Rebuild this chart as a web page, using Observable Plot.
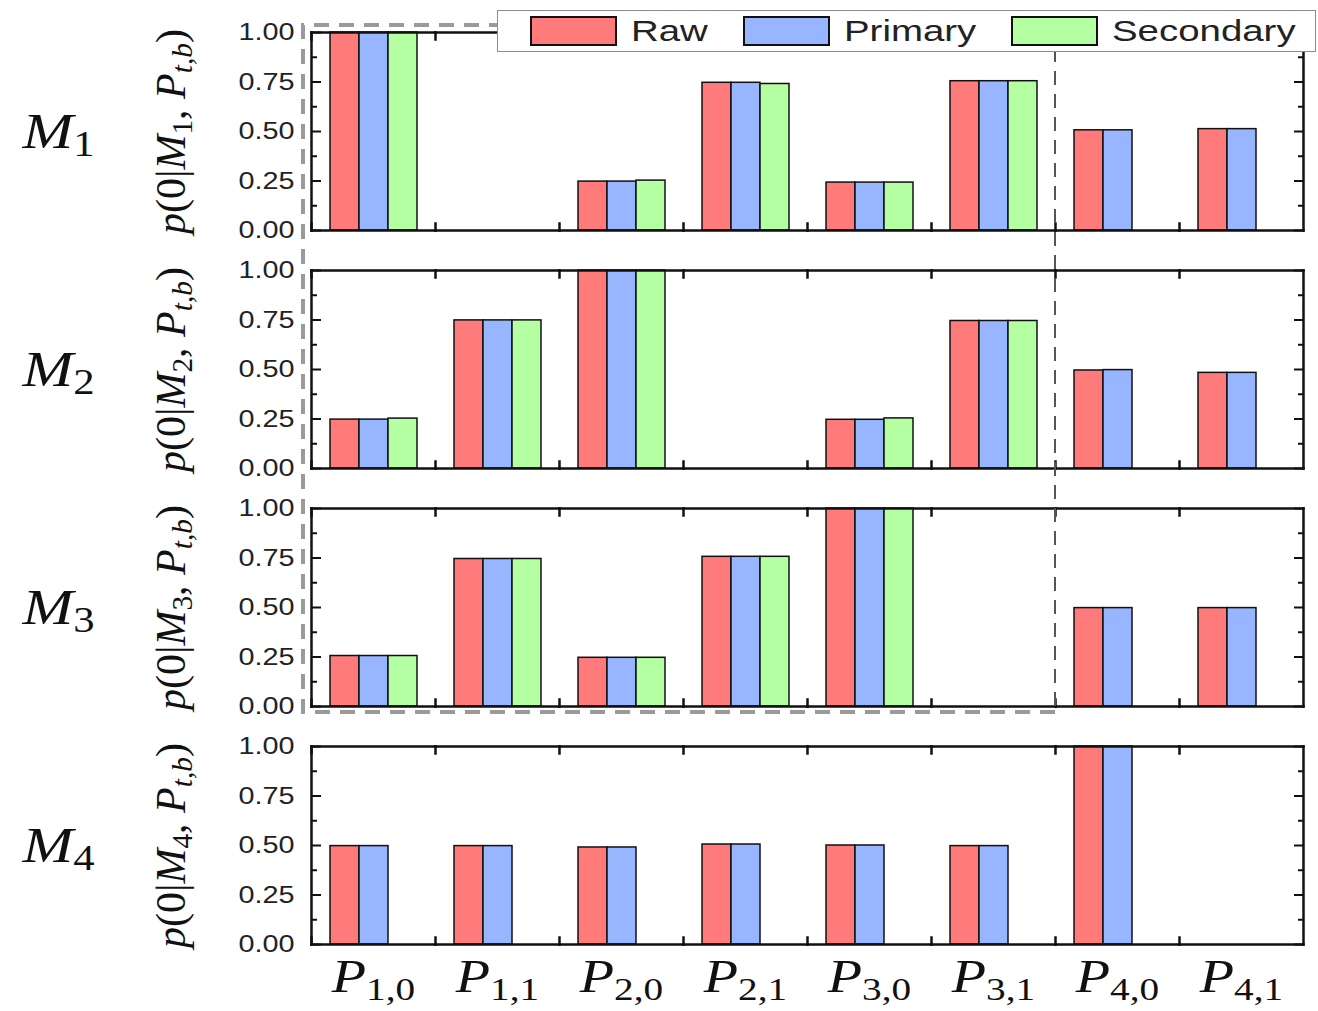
<!DOCTYPE html>
<html>
<head>
<meta charset="utf-8">
<script src="https://cdn.jsdelivr.net/npm/d3@7"></script>
<script src="https://cdn.jsdelivr.net/npm/@observablehq/plot@0.6"></script>
<style>
html, body { margin: 0; padding: 0; background: #fff; }
#wrap { position: relative; width: 1318px; height: 1011px; overflow: hidden; }
#wrap > svg { position: absolute; left: 0; top: 0; }
.legend { position: absolute; left: 497px; top: 10px; width: 819px; height: 42px; box-sizing: border-box;
  border: 1.5px solid #8c8c8c; background: #fff; display: flex; align-items: center; padding-left: 32px;
  font-family: "Liberation Sans", Arial, sans-serif; font-size: 30px; color: #222; }
.legend .item { display: flex; align-items: center; }
.legend .sw { width: 87px; height: 30px; box-sizing: border-box; border: 2px solid #111; margin-right: 14px; flex: none; }
.legend .lab { display: inline-block; transform: scaleX(1.28); transform-origin: 0 50%; white-space: nowrap; }
</style>
</head>
<body>
<div id="wrap"></div>
<script>
// ---------- data ----------
const categories = ["P1,0", "P1,1", "P2,0", "P2,1", "P3,0", "P3,1", "P4,0", "P4,1"];
const categoryLabels = ["P_{1,0}", "P_{1,1}", "P_{2,0}", "P_{2,1}", "P_{3,0}", "P_{3,1}", "P_{4,0}", "P_{4,1}"];
const models = ["M1", "M2", "M3", "M4"];
const modelLabels = ["M_{1}", "M_{2}", "M_{3}", "M_{4}"];
const yTitles = ["p(0|M_{1}, P_{t,b})", "p(0|M_{2}, P_{t,b})", "p(0|M_{3}, P_{t,b})", "p(0|M_{4}, P_{t,b})"];
const series = ["Raw", "Primary", "Secondary"];
const colors = ["#ff7b7b", "#97b6ff", "#b4ffa2"];
const yTicks = [0, 0.25, 0.5, 0.75, 1];
const yMinorTicks = [0.125, 0.375, 0.625, 0.875];

const m1Raw       = [1.0, 0, 0.247, 0.746, 0.242, 0.754, 0.506, 0.512];
const m1Primary   = [1.0, 0, 0.247, 0.746, 0.242, 0.754, 0.506, 0.512];
const m1Secondary = [1.0, 0, 0.252, 0.740, 0.242, 0.754, null, null];

const m2Raw       = [0.247, 0.748, 1.0, 0, 0.246, 0.745, 0.495, 0.483];
const m2Primary   = [0.247, 0.748, 1.0, 0, 0.246, 0.745, 0.497, 0.483];
const m2Secondary = [0.252, 0.748, 1.0, 0, 0.253, 0.745, null, null];

const m3Raw       = [0.255, 0.745, 0.246, 0.756, 1.0, 0, 0.497, 0.497];
const m3Primary   = [0.255, 0.745, 0.246, 0.756, 1.0, 0, 0.497, 0.497];
const m3Secondary = [0.255, 0.745, 0.246, 0.756, 1.0, 0, null, null];

const m4Raw       = [0.497, 0.497, 0.490, 0.505, 0.500, 0.497, 1.0, 0];
const m4Primary   = [0.497, 0.497, 0.490, 0.505, 0.500, 0.497, 1.0, 0];
const m4Secondary = [null, null, null, null, null, null, null, null];

const valueTable = [
  [m1Raw, m1Primary, m1Secondary],
  [m2Raw, m2Primary, m2Secondary],
  [m3Raw, m3Primary, m3Secondary],
  [m4Raw, m4Primary, m4Secondary]
];

const rows = [];
models.forEach((m, mi) => valueTable[mi].forEach((arr, si) => arr.forEach((v, ci) => {
  if (v != null) rows.push({model: m, cat: categories[ci], series: series[si], value: v});
})));

// ---------- layout ----------
const W = 1318, H = 1011;
const mL = 307, mR = 12, mT = 32, mB = 67;
const panelH = 198, panelGap = 40;
const ink = "#111";

const plot = Plot.plot({
  width: W, height: H,
  marginLeft: mL, marginRight: mR, marginTop: mT, marginBottom: mB,
  style: {background: "transparent", color: ink, overflow: "visible"},
  fx: {domain: categories, padding: 0},
  fy: {domain: models, paddingInner: panelGap / (panelH + panelGap), paddingOuter: 0, axis: null},
  x: {domain: series, paddingInner: 0, paddingOuter: 0.6, axis: null},
  y: {domain: [0, 1]},
  color: {domain: series, range: colors},
  marks: [
    Plot.barY(rows, {fx: "cat", fy: "model", x: "series", y: "value", fill: "series", stroke: ink, strokeWidth: 1.5}),
    Plot.frame({anchor: "top", stroke: ink, strokeWidth: 2.5, strokeLinecap: "square"}),
    Plot.frame({anchor: "bottom", stroke: ink, strokeWidth: 2.5, strokeLinecap: "square"}),
    Plot.frame({anchor: "left", facetAnchor: "left", stroke: ink, strokeWidth: 2.5, strokeLinecap: "square"}),
    Plot.frame({anchor: "right", facetAnchor: "right", stroke: ink, strokeWidth: 2.5, strokeLinecap: "square"}),
    Plot.frame({anchor: "left", insetBottom: panelH - 7, stroke: ink, strokeWidth: 2.5}),
    Plot.frame({anchor: "left", insetTop: panelH - 7, stroke: ink, strokeWidth: 2.5}),
    Plot.axisY({anchor: "left", ticks: yTicks, tickSize: -10, fill: "none", label: null, strokeWidth: 2}),
    Plot.axisY({anchor: "left", ticks: yMinorTicks, tickSize: -6, fill: "none", label: null, strokeWidth: 2}),
    Plot.axisY({anchor: "right", ticks: yTicks, tickSize: -10, fill: "none", label: null, strokeWidth: 2}),
    Plot.axisY({anchor: "right", ticks: yMinorTicks, tickSize: -6, fill: "none", label: null, strokeWidth: 2}),
    Plot.axisY({anchor: "left", ticks: yTicks, tickSize: 0, tickPadding: 17, tickFormat: d3.format(".2f"),
      label: null, fontSize: 24, fontFamily: "Liberation Sans, Arial, sans-serif", fill: "#222"}),
    Plot.axisFx({anchor: "bottom", tickSize: 0, tickPadding: 15, label: null,
      tickFormat: d => categoryLabels[categories.indexOf(d)],
      fontSize: 46, fontFamily: "Liberation Serif, serif", fill: "#111"}),
    Plot.text(models, {fx: () => categories[0], fy: d => d, text: d => modelLabels[models.indexOf(d)],
      frameAnchor: "left", dx: -253, textAnchor: "middle", fontSize: 50, fontFamily: "Liberation Serif, serif", fill: "#111"}),
    Plot.text(models, {fx: () => categories[0], fy: d => d, text: d => yTitles[models.indexOf(d)],
      frameAnchor: "left", dx: -140, rotate: -90, textAnchor: "middle", fontSize: 42, fontFamily: "Liberation Serif, serif", fill: "#111"})
  ]
});

const wrap = document.getElementById("wrap");
wrap.append(plot);

// ---------- rich text (italic letters, subscripts) ----------
const SVGNS = "http://www.w3.org/2000/svg";
function richify(el) {
  const s = el.textContent;
  const size = parseFloat(getComputedStyle(el).fontSize) || 20;
  const tokens = [];
  let i = 0;
  while (i < s.length) {
    const j = s.indexOf("_{", i);
    if (j < 0) { tokens.push({t: s.slice(i), sub: false}); break; }
    if (j > i) tokens.push({t: s.slice(i, j), sub: false});
    const k = s.indexOf("}", j);
    tokens.push({t: s.slice(j + 2, k), sub: true});
    i = k + 1;
  }
  el.textContent = "";
  let shifted = false;
  const shift = size * 0.17;
  tokens.forEach(tok => {
    const runs = tok.t.match(/[A-Za-z]+|[^A-Za-z]+/g) || [];
    runs.forEach(run => {
      const ts = document.createElementNS(SVGNS, "tspan");
      ts.textContent = run;
      if (/[A-Za-z]/.test(run)) ts.setAttribute("font-style", "italic");
      if (tok.sub) ts.setAttribute("font-size", (size * 0.7) + "px");
      if (tok.sub && !shifted) { ts.setAttribute("dy", shift); shifted = true; }
      else if (!tok.sub && shifted) { ts.setAttribute("dy", -shift); shifted = false; }
      el.appendChild(ts);
    });
  });
}
function stretch(el, k) {
  const len = el.getComputedTextLength();
  el.setAttribute("textLength", len * k);
  el.setAttribute("lengthAdjust", "spacingAndGlyphs");
}
const svg = d3.select(plot);
svg.selectAll("text").each(function () {
  const s = this.textContent;
  if (s.includes("_{")) {
    const isTitle = s.startsWith("p(");
    richify(this);
    if (!isTitle) stretch(this, 1.22);
  }
});
svg.selectAll('g[aria-label="y-axis tick label"] text').each(function () { stretch(this, 1.2); });

// ---------- dashed highlight box (from Plot's facet scales) ----------
const sfx = plot.scale("fx"), sfy = plot.scale("fy");
const bx0 = sfx.apply(categories[0]) - 8;
const bx1 = sfx.apply(categories[5]) + sfx.bandwidth;
const by0 = sfy.apply(models[0]) - 7;
const by1 = sfy.apply(models[2]) + sfy.bandwidth + 6;
svg.append("path")
  .attr("d", `M${bx1},${by1}H${bx0}V${by0}H${bx1}`)
  .attr("fill", "none").attr("stroke", "#9a9a9a").attr("stroke-width", 4).attr("stroke-dasharray", "15 10");
svg.append("path")
  .attr("d", `M${bx1},${by0}V${by1}`)
  .attr("fill", "none").attr("stroke", "#555").attr("stroke-width", 2).attr("stroke-dasharray", "14 9");

// ---------- legend ----------
const legend = d3.select(wrap).append("div").attr("class", "legend");
series.forEach((s, i) => {
  const item = legend.append("div").attr("class", "item");
  item.append("div").attr("class", "sw").style("background", colors[i]);
  item.append("span").attr("class", "lab").text(s);
});
legend.selectAll(".lab").each(function () {
  this.style.marginRight = (this.offsetWidth * 0.28 + 35) + "px";
});
</script>
</body>
</html>
